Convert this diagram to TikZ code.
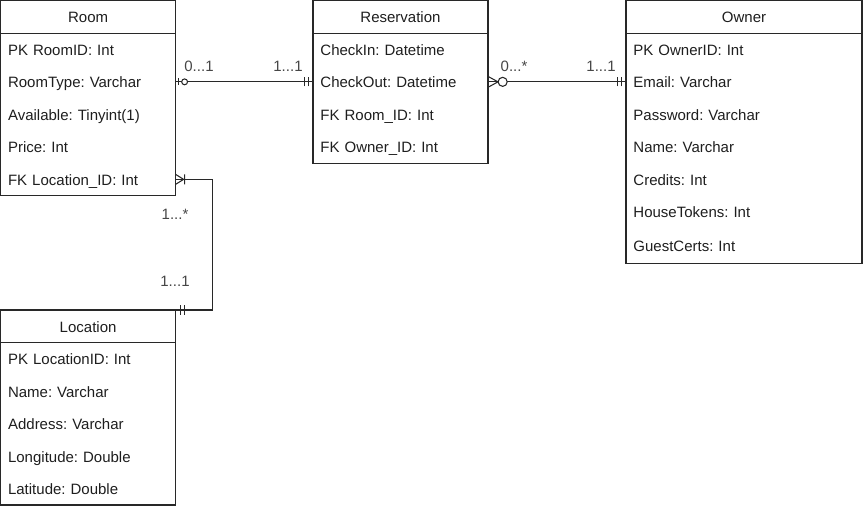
\documentclass[tikz,border=0pt]{standalone}
\usepackage{fontspec}
\setmainfont{Liberation Sans}
\usetikzlibrary{positioning,calc}

% ER end marks: the tip end lies on the entity border, the line runs to it
\pgfdeclarearrow{
  name = ERmone,
  setup code = {\pgfarrowssettipend{0pt}\pgfarrowssetlineend{0pt}\pgfarrowssetbackend{-7pt}},
  drawing code = {
    \pgfpathmoveto{\pgfqpoint{-3.5pt}{-3.4pt}}\pgfpathlineto{\pgfqpoint{-3.5pt}{3.4pt}}
    \pgfpathmoveto{\pgfqpoint{-6.5pt}{-3.4pt}}\pgfpathlineto{\pgfqpoint{-6.5pt}{3.4pt}}
    \pgfusepathqstroke}
}
\pgfdeclarearrow{
  name = ERzone,
  setup code = {\pgfarrowssettipend{0pt}\pgfarrowssetlineend{0pt}\pgfarrowssetbackend{-9pt}},
  drawing code = {
    \pgfpathmoveto{\pgfqpoint{-2.5pt}{-2.6pt}}\pgfpathlineto{\pgfqpoint{-2.5pt}{2.6pt}}
    \pgfusepathqstroke
    \pgfsetfillcolor{white}
    \pgfpathcircle{\pgfqpoint{-6.75pt}{0pt}}{2.2pt}
    \pgfusepathqfillstroke}
}
\pgfdeclarearrow{
  name = ERzmany,
  setup code = {\pgfarrowssettipend{0pt}\pgfarrowssetlineend{0pt}\pgfarrowssetbackend{-15pt}},
  drawing code = {
    \pgfpathmoveto{\pgfqpoint{0pt}{-4.1pt}}\pgfpathlineto{\pgfqpoint{-7.5pt}{0pt}}
    \pgfpathlineto{\pgfqpoint{0pt}{4.1pt}}
    \pgfusepathqstroke
    \pgfsetfillcolor{white}
    \pgfpathcircle{\pgfqpoint{-11pt}{0pt}}{3.4pt}
    \pgfusepathqfillstroke}
}
\pgfdeclarearrow{
  name = ERomany,
  setup code = {\pgfarrowssettipend{0pt}\pgfarrowssetlineend{0pt}\pgfarrowssetbackend{-7pt}},
  drawing code = {
    \pgfpathmoveto{\pgfqpoint{0pt}{-3.75pt}}\pgfpathlineto{\pgfqpoint{-6pt}{0pt}}
    \pgfpathlineto{\pgfqpoint{0pt}{3.75pt}}
    \pgfpathmoveto{\pgfqpoint{-6.75pt}{-3.75pt}}\pgfpathlineto{\pgfqpoint{-6.75pt}{3.75pt}}
    \pgfusepathqstroke}
}

\definecolor{erline}{RGB}{40,40,40}
\definecolor{ertext}{RGB}{30,30,30}
\definecolor{erlabel}{RGB}{70,70,70}

\tikzset{
  efont/.style={font=\fontsize{11.25}{13}\selectfont\frenchspacing},
  ehead/.style={draw=erline, line width=0.8pt, efont, text=ertext, minimum width=#1,
    minimum height=24.375pt, inner sep=0pt, outer sep=0pt, text height=9.7pt, text depth=0.9pt},
  erow/.style={efont, text=ertext, text width=#1, align=left, inner xsep=5.6pt,
    inner ysep=0pt, minimum height=24.375pt, outer sep=0pt, text height=9.7pt, text depth=0.9pt},
  eframe/.style={draw=erline, line width=0.8pt},
  elink/.style={draw=erline, line width=0.8pt},
  card/.style={efont, text=erlabel, inner sep=1pt}
}

\begin{document}
\begin{tikzpicture}[x=0.75pt,y=-0.75pt]
\useasboundingbox (0,0) rectangle (864,510);
% Room
\node[ehead=131.25pt, anchor=north west] (room) at (0.6,0.6) {Room};
\node[erow=120.05pt, below=0pt of room] (roomid) {PK RoomID: Int};
\node[erow=120.05pt, below=0pt of roomid] (rtype) {RoomType: Varchar};
\node[erow=120.05pt, below=0pt of rtype] (ravail) {Available: Tinyint(1)};
\node[erow=120.05pt, below=0pt of ravail] (rprice) {Price: Int};
\node[erow=120.05pt, below=0pt of rprice] (rfk) {FK Location\_ID: Int};
\draw[eframe] (room.north west) rectangle (rfk.south east);
% Reservation
\node[ehead=131.25pt, anchor=north west] (resv) at (313,0.6) {Reservation};
\node[erow=120.05pt, below=0pt of resv] (ckin) {CheckIn: Datetime};
\node[erow=120.05pt, below=0pt of ckin] (ckout) {CheckOut: Datetime};
\node[erow=120.05pt, below=0pt of ckout] (resroom) {FK Room\_ID: Int};
\node[erow=120.05pt, below=0pt of resroom] (resowner) {FK Owner\_ID: Int};
\draw[eframe] (resv.north west) rectangle (resowner.south east);
% Owner
\node[ehead=177pt, anchor=north west] (owner) at (626,0.6) {Owner};
\node[erow=165.8pt, below=0pt of owner] (ownid) {PK OwnerID: Int};
\node[erow=165.8pt, below=0pt of ownid] (omail) {Email: Varchar};
\node[erow=165.8pt, below=0pt of omail] (opass) {Password: Varchar};
\node[erow=165.8pt, below=0pt of opass] (oname) {Name: Varchar};
\node[erow=165.8pt, below=0pt of oname] (ocred) {Credits: Int};
\node[erow=165.8pt, below=0pt of ocred] (otok) {HouseTokens: Int};
\node[erow=165.8pt, below=0pt of otok, minimum height=26.6pt] (ocert) {GuestCerts: Int};
\draw[eframe] (owner.north west) rectangle (ocert.south east);
% Location
\node[ehead=131.25pt, anchor=north west] (loc) at (0.6,310) {Location};
\node[erow=120.05pt, below=0pt of loc] (locid) {PK LocationID: Int};
\node[erow=120.05pt, below=0pt of locid] (lname) {Name: Varchar};
\node[erow=120.05pt, below=0pt of lname] (laddr) {Address: Varchar};
\node[erow=120.05pt, below=0pt of laddr] (llong) {Longitude: Double};
\node[erow=120.05pt, below=0pt of llong] (llat) {Latitude: Double};
\draw[eframe] (loc.north west) rectangle (llat.south east);
% relations
\draw[elink, ERzone-ERmone] (rtype.east) -- (ckout.west);
\draw[elink, ERzmany-ERmone] (ckout.east) -- (omail.west);
\draw[elink, ERomany-ERmone] (rfk.east) -- ++(37,0) |- (loc.north east);
% cardinalities
\node[card] (c1) at (199,66) {0...1};
\node[card] (c2) at (288,66) {1...1};
\node[card] (c3) at (514,66) {0...*};
\node[card] (c4) at (601,66) {1...1};
\node[card] (c5) at (175,214) {1...*};
\node[card] (c6) at (175,281) {1...1};
\end{tikzpicture}
\end{document}
